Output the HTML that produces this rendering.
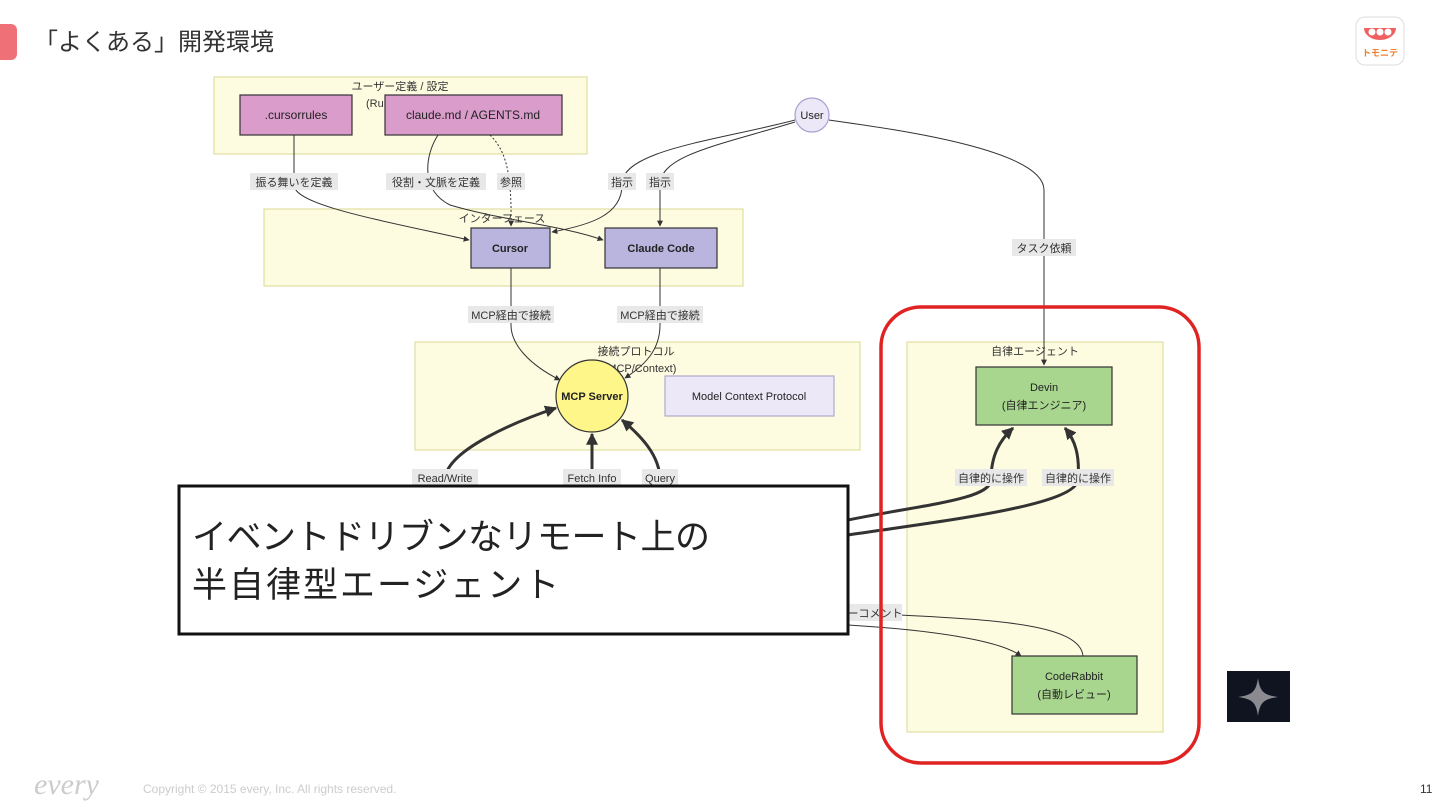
<!DOCTYPE html>
<html><head><meta charset="utf-8"><style>
html,body{margin:0;padding:0;background:#fff;}
svg{display:block;font-family:"Liberation Sans","Noto Sans CJK JP",sans-serif;}
</style></head><body>
<svg width="1440" height="810" viewBox="0 0 1440 810" xmlns="http://www.w3.org/2000/svg">
<defs>
<marker id="a" viewBox="0 0 10 10" refX="9" refY="5" markerWidth="6" markerHeight="6" orient="auto"><path d="M0,0L10,5L0,10z" fill="#333"/></marker>
<marker id="b" viewBox="0 0 10 10" refX="9" refY="5" markerWidth="4" markerHeight="4" orient="auto"><path d="M0,0L10,5L0,10z" fill="#333"/></marker>
</defs>
<rect x="-8" y="24" width="25" height="36" rx="6" fill="#f07078"/>
<text x="34" y="50" font-size="24" fill="#333">「よくある」開発環境</text>
<rect x="1356" y="17" width="48" height="48" rx="9" fill="#fff" stroke="#ddd"/>
<path d="M1364,28 h32 a16,12 0 0 1 -32,0z" fill="#f06060"/>
<circle cx="1372" cy="32" r="3.5" fill="#fff"/><circle cx="1380" cy="32" r="3.5" fill="#fff"/><circle cx="1388" cy="32" r="3.5" fill="#fff"/>
<text x="1380" y="56" font-size="9" fill="#f08030" text-anchor="middle" font-weight="bold">トモニテ</text>

<rect x="214" y="77" width="373" height="77" fill="#fefce0" stroke="#d8d890"/>
<text x="400" y="90" font-size="11" fill="#333" text-anchor="middle">ユーザー定義 / 設定</text>
<text x="366" y="107" font-size="11" fill="#333">(Ru</text>
<rect x="264" y="209" width="479" height="77" fill="#fefce0" stroke="#d8d890"/>
<rect x="415" y="342" width="445" height="108" fill="#fefce0" stroke="#d8d890"/>
<rect x="907" y="342" width="256" height="390" fill="#fefce0" stroke="#d8d890"/>

<g fill="none" stroke="#333" stroke-width="1">
<path d="M294,135 V185 C294,205 380,220 469,240" marker-end="url(#a)"/>
<path d="M438,135 C425,155 420,190 450,205 C500,220 560,225 603,240" marker-end="url(#a)"/>
<path d="M490,135 C505,150 512,170 511,226" stroke-dasharray="2,2" marker-end="url(#a)"/>
<path d="M795,120 C720,140 620,150 622,185 C622,215 590,225 552,232" marker-end="url(#a)"/>
<path d="M795,122 C720,145 660,155 660,185 V226" marker-end="url(#a)"/>
<path d="M829,120 C900,130 1044,150 1044,190 V365" marker-end="url(#a)"/>
<path d="M511,268 V325 C511,345 530,365 560,380" marker-end="url(#a)"/>
<path d="M660,268 V325 C660,350 645,365 625,378" marker-end="url(#a)"/>
<path d="M900,615 C1000,620 1080,625 1083,656"/>
<path d="M848,625 C930,630 1000,640 1021,656" marker-end="url(#a)"/>
</g>
<g fill="none" stroke="#333" stroke-width="3">
<path d="M445,480 C445,450 520,420 556,408" marker-end="url(#b)"/>
<path d="M592,480 V434" marker-end="url(#b)"/>
<path d="M660,480 C660,455 640,435 622,420" marker-end="url(#b)"/>
<path d="M848,520 C920,505 990,500 991,480 C991,455 1000,440 1013,428" marker-end="url(#b)"/>
<path d="M848,535 C950,520 1075,505 1078,480 C1080,455 1075,440 1065,428" marker-end="url(#b)"/>
</g>

<g font-size="11" fill="#333" text-anchor="middle">
<rect x="250" y="173" width="88" height="17" fill="#e8e8e8"/><text x="294" y="186">振る舞いを定義</text>
<rect x="386" y="173" width="100" height="17" fill="#e8e8e8"/><text x="436" y="186">役割・文脈を定義</text>
<rect x="497" y="173" width="28" height="17" fill="#e8e8e8"/><text x="511" y="186">参照</text>
<rect x="608" y="173" width="28" height="17" fill="#e8e8e8"/><text x="622" y="186">指示</text>
<rect x="646" y="173" width="28" height="17" fill="#e8e8e8"/><text x="660" y="186">指示</text>
<rect x="1012" y="239" width="64" height="17" fill="#e8e8e8"/><text x="1044" y="252">タスク依頼</text>
<rect x="468" y="306" width="86" height="17" fill="#e8e8e8"/><text x="511" y="319">MCP経由で接続</text>
<rect x="617" y="306" width="86" height="17" fill="#e8e8e8"/><text x="660" y="319">MCP経由で接続</text>
<rect x="412" y="469" width="66" height="17" fill="#e8e8e8"/><text x="445" y="482">Read/Write</text>
<rect x="563" y="469" width="58" height="17" fill="#e8e8e8"/><text x="592" y="482">Fetch Info</text>
<rect x="642" y="469" width="36" height="17" fill="#e8e8e8"/><text x="660" y="482">Query</text>
<rect x="955" y="469" width="72" height="17" fill="#e8e8e8"/><text x="991" y="482">自律的に操作</text>
<rect x="1042" y="469" width="72" height="17" fill="#e8e8e8"/><text x="1078" y="482">自律的に操作</text>
<rect x="848" y="604" width="54" height="17" fill="#e8e8e8"/><text x="875" y="617">ーコメント</text>
</g>

<g font-size="11" fill="#333" text-anchor="middle">
<text x="502" y="222">インターフェース</text>
<text x="636" y="355">接続プロトコル</text>
<text x="640" y="372">(MCP/Context)</text>
<text x="1035" y="355">自律エージェント</text>
</g>

<g stroke="#333" stroke-width="1.2" font-size="12" text-anchor="middle">
<rect x="240" y="95" width="112" height="40" fill="#da9ccb"/>
<rect x="385" y="95" width="177" height="40" fill="#da9ccb"/>
<rect x="471" y="228" width="79" height="40" fill="#b9b5df"/>
<rect x="605" y="228" width="112" height="40" fill="#b9b5df"/>
<circle cx="812" cy="115" r="17" fill="#ece8f8" stroke="#a8a0d0"/>
<circle cx="592" cy="396" r="36" fill="#fff68a"/>
<rect x="665" y="376" width="169" height="40" fill="#ece8f8" stroke="#b0a8d0"/>
<rect x="976" y="367" width="136" height="58" fill="#a8d68e"/>
<rect x="1012" y="656" width="125" height="58" fill="#a8d68e"/>
</g>
<g font-size="12" fill="#222" text-anchor="middle">
<text x="296" y="119">.cursorrules</text>
<text x="473" y="119">claude.md / AGENTS.md</text>
<text x="510" y="252" font-weight="bold" font-size="11">Cursor</text>
<text x="661" y="252" font-size="11" font-weight="bold">Claude Code</text>
<text x="812" y="119" font-size="11">User</text>
<text x="592" y="400" font-size="11" font-weight="bold">MCP Server</text>
<text x="749" y="400" font-size="11">Model Context Protocol</text>
<text x="1044" y="391" font-size="11">Devin</text>
<text x="1044" y="409" font-size="11">(自律エンジニア)</text>
<text x="1074" y="680" font-size="11">CodeRabbit</text>
<text x="1074" y="698" font-size="11">(自動レビュー)</text>
</g>

<rect x="881" y="307" width="318" height="456" rx="40" fill="none" stroke="#e02222" stroke-width="3.5"/>

<rect x="179" y="486" width="669" height="148" fill="#fff" stroke="#111" stroke-width="3"/>
<text x="192" y="549" font-size="35" fill="#222" letter-spacing="-0.5">イベントドリブンなリモート上の</text>
<text x="192" y="597" font-size="35" fill="#222" letter-spacing="2">半自律型エージェント</text>

<rect x="1227" y="671" width="63" height="51" fill="#0f1420"/>
<path d="M1258,678 C1260,692 1264,695 1278,697 C1264,699 1260,702 1258,716 C1256,702 1252,699 1238,697 C1252,695 1256,692 1258,678z" fill="#8a8a90"/>

<text x="34" y="794" font-size="30" font-style="italic" fill="#ccc" font-family="Liberation Serif,serif">every</text>
<text x="143" y="793" font-size="12" fill="#ccc">Copyright © 2015 every, Inc. All rights reserved.</text>
<text x="1420" y="793" font-size="12" fill="#333">11</text>
</svg>
</body></html>
